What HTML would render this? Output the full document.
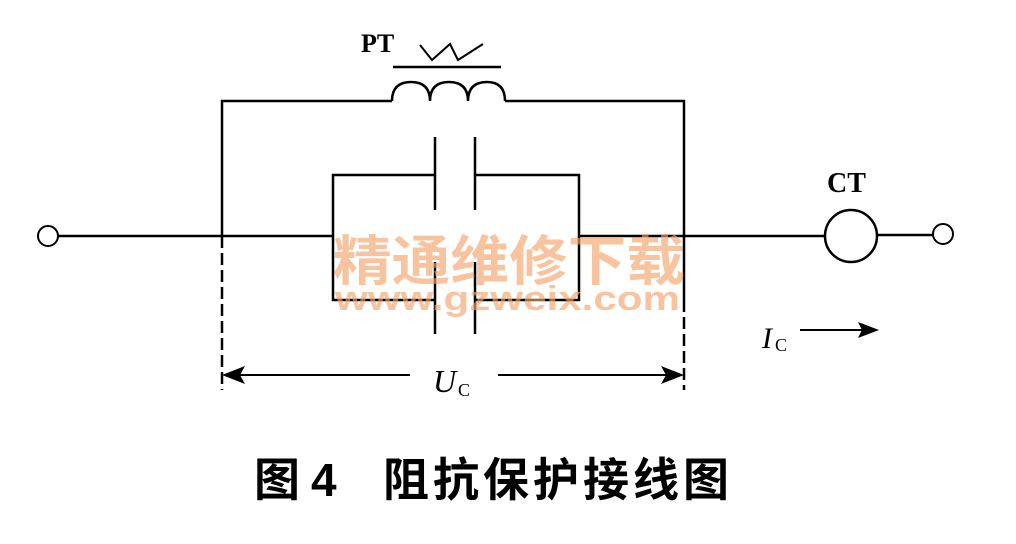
<!DOCTYPE html>
<html><head><meta charset="utf-8"><style>
html,body{margin:0;padding:0;background:#fff;}
svg{display:block;}
</style></head><body>
<svg width="1016" height="544" viewBox="0 0 1016 544" xmlns="http://www.w3.org/2000/svg">
<g stroke="#000" stroke-width="2.5" fill="none">
<line x1="58" y1="236" x2="333" y2="236"/>
<line x1="579" y1="236" x2="825" y2="236"/>
<line x1="877" y1="235" x2="933" y2="235"/>
<circle cx="48" cy="236" r="10" stroke-width="2"/>
<circle cx="943" cy="234" r="10" stroke-width="2"/>
<circle cx="851" cy="236" r="26"/>
<polyline points="222,236 222,101 392,101"/>
<polyline points="505,101 684,101 684,300"/>
<path d="M392,101 Q392,82 411,82 Q430,82 430,101 Q430,82 449,82 Q468,82 468,101 Q468,82 487,82 Q505,82 505,101" />
<line x1="393" y1="67" x2="501" y2="67"/>
<polyline points="420,45 432,60 450,44 458,60 483,44" stroke-width="2"/>
<polyline points="435,175 333,175 333,300 435,300"/>
<polyline points="475,175 579,175 579,300 475,300"/>
<line x1="435" y1="137" x2="435" y2="210"/>
<line x1="475" y1="137" x2="475" y2="210"/>
<line x1="435" y1="262" x2="435" y2="334"/>
<line x1="475" y1="262" x2="475" y2="334"/>
<line x1="222" y1="236" x2="222" y2="390" stroke-dasharray="12,5"/>
<line x1="684" y1="300" x2="684" y2="390" stroke-dasharray="12,5"/>
<line x1="235" y1="375" x2="410" y2="375" stroke-width="2"/>
<line x1="498" y1="375" x2="670" y2="375" stroke-width="2"/>
<line x1="800" y1="330" x2="862" y2="330" stroke-width="2"/>
</g>
<g fill="#000">
<polygon points="222,375 245,366 240,375 245,384"/>
<polygon points="684,375 661,366 666,375 661,384"/>
<polygon points="879,330 858,322 862,330 858,338"/>
</g>
<g font-family="Liberation Serif, serif" fill="#000">
<text x="361" y="52" font-size="26" font-weight="bold">PT</text>
<text x="827" y="192" font-size="28" font-weight="bold">CT</text>
<text x="762" y="348" font-size="30" font-style="italic">I</text>
<text x="775" y="351" font-size="18">C</text>
<text x="433" y="392" font-size="32" font-style="italic">U</text>
<text x="458" y="396" font-size="18">C</text>
</g>
<g fill="#f4a56c" opacity="0.65" font-family="Liberation Sans, 'Noto Sans CJK SC', sans-serif" font-weight="bold">
<text x="333" y="280" font-size="54" textLength="352" lengthAdjust="spacingAndGlyphs">精通维修下载</text>
<text x="335" y="310" font-size="34" textLength="345" lengthAdjust="spacingAndGlyphs">www.gzweix.com</text>
</g>
<g font-family="Liberation Sans, 'Noto Sans CJK SC', sans-serif" font-weight="bold" fill="#000" font-size="46">
<text x="254" y="496">图</text>
<text x="311" y="496">4</text>
<text x="383" y="496" letter-spacing="4">阻抗保护接线图</text>
</g>
</svg>
</body></html>
